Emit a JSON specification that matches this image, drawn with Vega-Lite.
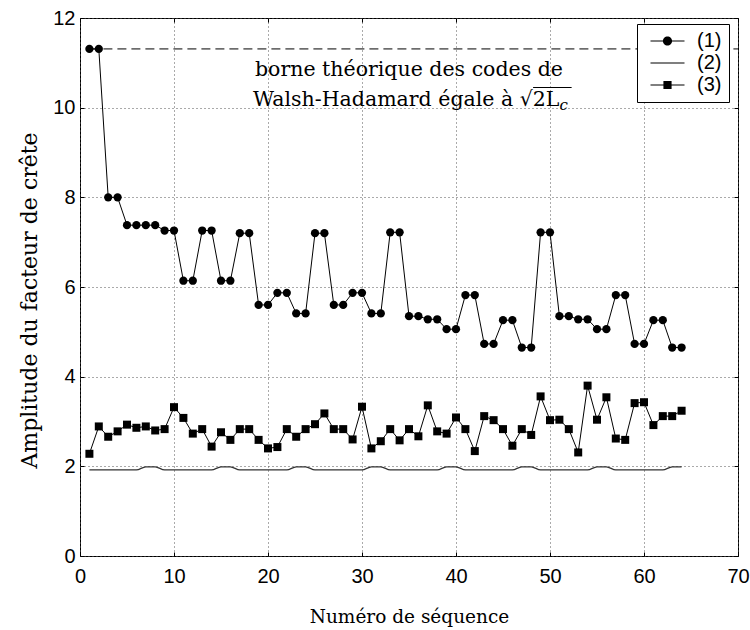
{
  "$schema": "https://vega.github.io/schema/vega-lite/v6.json",
  "width": 658,
  "height": 538,
  "autosize": {"type": "none"},
  "padding": {"left": 80, "top": 18, "right": 12, "bottom": 74},
  "background": "white",
  "config": {
    "view": {"stroke": "black", "strokeWidth": 1},
    "axis": {
      "labelFont": "Liberation Sans", "labelFontSize": 20, "labelColor": "black",
      "labelFlush": false, "labelOverlap": false,
      "domain": false, "tickColor": "black", "tickSize": -4, "tickWidth": 1,
      "gridColor": "#555555", "gridDash": [1, 3], "gridWidth": 1,
      "titleFont": "DejaVu Serif", "titleFontWeight": "normal", "titleColor": "black"
    },
    "legend": {
      "strokeColor": "black", "fillColor": "white", "padding": 7, "cornerRadius": 0,
      "symbolSize": 289, "symbolOpacity": 1, "symbolOffset": 5,
      "labelFont": "Liberation Sans", "labelFontSize": 20, "labelColor": "black",
      "labelOffset": 28, "rowPadding": 2, "zindex": 1
    }
  },
  "data": {"values": [
    {"n":1,"s":"(1)","v":11.31},{"n":2,"s":"(1)","v":11.31},{"n":3,"s":"(1)","v":8.0},{"n":4,"s":"(1)","v":8.0},
    {"n":5,"s":"(1)","v":7.38},{"n":6,"s":"(1)","v":7.38},{"n":7,"s":"(1)","v":7.38},{"n":8,"s":"(1)","v":7.38},
    {"n":9,"s":"(1)","v":7.26},{"n":10,"s":"(1)","v":7.26},{"n":11,"s":"(1)","v":6.14},{"n":12,"s":"(1)","v":6.14},
    {"n":13,"s":"(1)","v":7.26},{"n":14,"s":"(1)","v":7.26},{"n":15,"s":"(1)","v":6.14},{"n":16,"s":"(1)","v":6.14},
    {"n":17,"s":"(1)","v":7.2},{"n":18,"s":"(1)","v":7.2},{"n":19,"s":"(1)","v":5.6},{"n":20,"s":"(1)","v":5.6},
    {"n":21,"s":"(1)","v":5.87},{"n":22,"s":"(1)","v":5.87},{"n":23,"s":"(1)","v":5.41},{"n":24,"s":"(1)","v":5.41},
    {"n":25,"s":"(1)","v":7.2},{"n":26,"s":"(1)","v":7.2},{"n":27,"s":"(1)","v":5.6},{"n":28,"s":"(1)","v":5.6},
    {"n":29,"s":"(1)","v":5.87},{"n":30,"s":"(1)","v":5.87},{"n":31,"s":"(1)","v":5.41},{"n":32,"s":"(1)","v":5.41},
    {"n":33,"s":"(1)","v":7.22},{"n":34,"s":"(1)","v":7.22},{"n":35,"s":"(1)","v":5.35},{"n":36,"s":"(1)","v":5.35},
    {"n":37,"s":"(1)","v":5.28},{"n":38,"s":"(1)","v":5.28},{"n":39,"s":"(1)","v":5.06},{"n":40,"s":"(1)","v":5.06},
    {"n":41,"s":"(1)","v":5.82},{"n":42,"s":"(1)","v":5.82},{"n":43,"s":"(1)","v":4.73},{"n":44,"s":"(1)","v":4.73},
    {"n":45,"s":"(1)","v":5.26},{"n":46,"s":"(1)","v":5.26},{"n":47,"s":"(1)","v":4.65},{"n":48,"s":"(1)","v":4.65},
    {"n":49,"s":"(1)","v":7.22},{"n":50,"s":"(1)","v":7.22},{"n":51,"s":"(1)","v":5.35},{"n":52,"s":"(1)","v":5.35},
    {"n":53,"s":"(1)","v":5.28},{"n":54,"s":"(1)","v":5.28},{"n":55,"s":"(1)","v":5.06},{"n":56,"s":"(1)","v":5.06},
    {"n":57,"s":"(1)","v":5.82},{"n":58,"s":"(1)","v":5.82},{"n":59,"s":"(1)","v":4.73},{"n":60,"s":"(1)","v":4.73},
    {"n":61,"s":"(1)","v":5.26},{"n":62,"s":"(1)","v":5.26},{"n":63,"s":"(1)","v":4.65},{"n":64,"s":"(1)","v":4.65},
    {"n":1,"s":"(2)","v":1.92},{"n":2,"s":"(2)","v":1.92},{"n":3,"s":"(2)","v":1.92},{"n":4,"s":"(2)","v":1.92},
    {"n":5,"s":"(2)","v":1.92},{"n":6,"s":"(2)","v":1.92},{"n":7,"s":"(2)","v":1.99},{"n":8,"s":"(2)","v":1.99},
    {"n":9,"s":"(2)","v":1.92},{"n":10,"s":"(2)","v":1.92},{"n":11,"s":"(2)","v":1.92},{"n":12,"s":"(2)","v":1.92},
    {"n":13,"s":"(2)","v":1.92},{"n":14,"s":"(2)","v":1.92},{"n":15,"s":"(2)","v":1.99},{"n":16,"s":"(2)","v":1.99},
    {"n":17,"s":"(2)","v":1.92},{"n":18,"s":"(2)","v":1.92},{"n":19,"s":"(2)","v":1.92},{"n":20,"s":"(2)","v":1.92},
    {"n":21,"s":"(2)","v":1.92},{"n":22,"s":"(2)","v":1.92},{"n":23,"s":"(2)","v":1.99},{"n":24,"s":"(2)","v":1.99},
    {"n":25,"s":"(2)","v":1.92},{"n":26,"s":"(2)","v":1.92},{"n":27,"s":"(2)","v":1.92},{"n":28,"s":"(2)","v":1.92},
    {"n":29,"s":"(2)","v":1.92},{"n":30,"s":"(2)","v":1.92},{"n":31,"s":"(2)","v":1.99},{"n":32,"s":"(2)","v":1.99},
    {"n":33,"s":"(2)","v":1.92},{"n":34,"s":"(2)","v":1.92},{"n":35,"s":"(2)","v":1.92},{"n":36,"s":"(2)","v":1.92},
    {"n":37,"s":"(2)","v":1.92},{"n":38,"s":"(2)","v":1.92},{"n":39,"s":"(2)","v":1.99},{"n":40,"s":"(2)","v":1.99},
    {"n":41,"s":"(2)","v":1.92},{"n":42,"s":"(2)","v":1.92},{"n":43,"s":"(2)","v":1.92},{"n":44,"s":"(2)","v":1.92},
    {"n":45,"s":"(2)","v":1.92},{"n":46,"s":"(2)","v":1.92},{"n":47,"s":"(2)","v":1.99},{"n":48,"s":"(2)","v":1.99},
    {"n":49,"s":"(2)","v":1.92},{"n":50,"s":"(2)","v":1.92},{"n":51,"s":"(2)","v":1.92},{"n":52,"s":"(2)","v":1.92},
    {"n":53,"s":"(2)","v":1.92},{"n":54,"s":"(2)","v":1.92},{"n":55,"s":"(2)","v":1.99},{"n":56,"s":"(2)","v":1.99},
    {"n":57,"s":"(2)","v":1.92},{"n":58,"s":"(2)","v":1.92},{"n":59,"s":"(2)","v":1.92},{"n":60,"s":"(2)","v":1.92},
    {"n":61,"s":"(2)","v":1.92},{"n":62,"s":"(2)","v":1.92},{"n":63,"s":"(2)","v":1.99},{"n":64,"s":"(2)","v":1.99},
    {"n":1,"s":"(3)","v":2.28},{"n":2,"s":"(3)","v":2.89},{"n":3,"s":"(3)","v":2.66},{"n":4,"s":"(3)","v":2.78},
    {"n":5,"s":"(3)","v":2.93},{"n":6,"s":"(3)","v":2.86},{"n":7,"s":"(3)","v":2.89},{"n":8,"s":"(3)","v":2.8},
    {"n":9,"s":"(3)","v":2.83},{"n":10,"s":"(3)","v":3.32},{"n":11,"s":"(3)","v":3.08},{"n":12,"s":"(3)","v":2.73},
    {"n":13,"s":"(3)","v":2.83},{"n":14,"s":"(3)","v":2.44},{"n":15,"s":"(3)","v":2.76},{"n":16,"s":"(3)","v":2.59},
    {"n":17,"s":"(3)","v":2.83},{"n":18,"s":"(3)","v":2.83},{"n":19,"s":"(3)","v":2.59},{"n":20,"s":"(3)","v":2.4},
    {"n":21,"s":"(3)","v":2.43},{"n":22,"s":"(3)","v":2.83},{"n":23,"s":"(3)","v":2.66},{"n":24,"s":"(3)","v":2.83},
    {"n":25,"s":"(3)","v":2.94},{"n":26,"s":"(3)","v":3.18},{"n":27,"s":"(3)","v":2.83},{"n":28,"s":"(3)","v":2.83},
    {"n":29,"s":"(3)","v":2.6},{"n":30,"s":"(3)","v":3.33},{"n":31,"s":"(3)","v":2.4},{"n":32,"s":"(3)","v":2.56},
    {"n":33,"s":"(3)","v":2.83},{"n":34,"s":"(3)","v":2.58},{"n":35,"s":"(3)","v":2.83},{"n":36,"s":"(3)","v":2.67},
    {"n":37,"s":"(3)","v":3.36},{"n":38,"s":"(3)","v":2.78},{"n":39,"s":"(3)","v":2.73},{"n":40,"s":"(3)","v":3.09},
    {"n":41,"s":"(3)","v":2.83},{"n":42,"s":"(3)","v":2.34},{"n":43,"s":"(3)","v":3.12},{"n":44,"s":"(3)","v":3.03},
    {"n":45,"s":"(3)","v":2.83},{"n":46,"s":"(3)","v":2.46},{"n":47,"s":"(3)","v":2.83},{"n":48,"s":"(3)","v":2.7},
    {"n":49,"s":"(3)","v":3.56},{"n":50,"s":"(3)","v":3.03},{"n":51,"s":"(3)","v":3.04},{"n":52,"s":"(3)","v":2.83},
    {"n":53,"s":"(3)","v":2.31},{"n":54,"s":"(3)","v":3.8},{"n":55,"s":"(3)","v":3.04},{"n":56,"s":"(3)","v":3.54},
    {"n":57,"s":"(3)","v":2.62},{"n":58,"s":"(3)","v":2.59},{"n":59,"s":"(3)","v":3.41},{"n":60,"s":"(3)","v":3.43},
    {"n":61,"s":"(3)","v":2.92},{"n":62,"s":"(3)","v":3.12},{"n":63,"s":"(3)","v":3.12},{"n":64,"s":"(3)","v":3.24}
  ]},
  "layer": [
    {
      "transform": [{"filter": "datum.s !== '(2)'"}],
      "mark": {"type": "line", "color": "black", "strokeWidth": 1},
      "encoding": {
        "x": {"field": "n", "type": "quantitative", "scale": {"domain": [0, 70], "nice": false, "zero": false},
          "axis": {"orient": "bottom", "values": [0, 10, 20, 30, 40, 50, 60, 70], "grid": true,
            "title": "Numéro de séquence", "titleFontSize": 18.5, "titleY": 66, "titleBaseline": "alphabetic", "labelPadding": 14}},
        "y": {"field": "v", "type": "quantitative", "scale": {"domain": [0, 12], "nice": false},
          "axis": {"orient": "left", "values": [0, 2, 4, 6, 8, 10, 12], "grid": true,
            "title": "Amplitude du facteur de crête", "titleFontSize": 22, "titleX": -44, "titleY": 282,
            "titleAngle": 270, "titleBaseline": "alphabetic", "labelPadding": 9}},
        "detail": {"field": "s"}
      }
    },
    {
      "transform": [{"filter": "datum.s === '(2)'"}],
      "mark": {"type": "line", "color": "#333333", "strokeWidth": 1.2, "interpolate": "monotone"},
      "encoding": {
        "x": {"field": "n", "type": "quantitative", "axis": null},
        "y": {"field": "v", "type": "quantitative", "axis": null}
      }
    },
    {
      "transform": [{"filter": "datum.s === '(1)'"}],
      "mark": {"type": "point", "shape": "circle", "filled": true, "color": "black", "size": 68, "opacity": 1},
      "encoding": {
        "x": {"field": "n", "type": "quantitative",
          "axis": {"orient": "top", "values": [0, 10, 20, 30, 40, 50, 60, 70], "labels": false, "grid": false, "title": null}},
        "y": {"field": "v", "type": "quantitative",
          "axis": {"orient": "right", "values": [0, 2, 4, 6, 8, 10, 12], "labels": false, "grid": false, "title": null}}
      }
    },
    {
      "transform": [{"filter": "datum.s === '(3)'"}],
      "mark": {"type": "point", "shape": "square", "filled": true, "color": "black", "size": 64, "opacity": 1},
      "encoding": {
        "x": {"field": "n", "type": "quantitative", "axis": null},
        "y": {"field": "v", "type": "quantitative", "axis": null}
      }
    },
    {
      "data": {"values": [{}]},
      "mark": {"type": "rule", "color": "black", "strokeWidth": 1, "strokeDash": [9, 5]},
      "encoding": {
        "x": {"datum": 1, "type": "quantitative", "axis": null},
        "x2": {"datum": 70},
        "y": {"datum": 11.31, "type": "quantitative", "axis": null}
      }
    },
    {
      "data": {"values": [{}]},
      "mark": {"type": "text", "font": "DejaVu Serif", "fontSize": 20.5, "align": "center", "baseline": "alphabetic", "color": "black"},
      "encoding": {
        "x": {"datum": 35, "type": "quantitative", "axis": null},
        "y": {"datum": 10.71, "type": "quantitative", "axis": null},
        "text": {"value": "borne théorique des codes de"}
      }
    },
    {
      "data": {"values": [{}]},
      "mark": {"type": "text", "font": "DejaVu Serif", "fontSize": 20.5, "align": "right", "baseline": "alphabetic", "color": "black"},
      "encoding": {
        "x": {"datum": 51, "type": "quantitative", "axis": null},
        "y": {"datum": 10.04, "type": "quantitative", "axis": null},
        "text": {"value": "Walsh-Hadamard égale à √2L"}
      }
    },
    {
      "data": {"values": [{}]},
      "mark": {"type": "text", "font": "DejaVu Serif", "fontSize": 15, "fontStyle": "italic", "align": "left", "baseline": "alphabetic", "color": "black", "dy": 4},
      "encoding": {
        "x": {"datum": 51, "type": "quantitative", "axis": null},
        "y": {"datum": 10.04, "type": "quantitative", "axis": null},
        "text": {"value": "c"}
      }
    },
    {
      "data": {"values": [{}]},
      "mark": {"type": "rule", "color": "black", "strokeWidth": 1.2},
      "encoding": {
        "x": {"datum": 48.2, "type": "quantitative", "axis": null},
        "x2": {"datum": 52.3},
        "y": {"datum": 10.45, "type": "quantitative", "axis": null}
      }
    },
    {
      "transform": [{"filter": "false"}],
      "mark": {"type": "point", "filled": true, "color": "black"},
      "encoding": {
        "x": {"field": "n", "type": "quantitative", "axis": null},
        "y": {"field": "v", "type": "quantitative", "axis": null},
        "shape": {"field": "s", "type": "nominal",
          "scale": {"domain": ["(1)", "(2)", "(3)"],
            "range": [
              "M-1,-0.06L3,-0.06L3,0.06L-1,0.06ZM0.46,0A0.54,0.54,0,1,1,1.54,0A0.54,0.54,0,1,1,0.46,0Z",
              "M-1,-0.06L3,-0.06L3,0.06L-1,0.06Z",
              "M-1,-0.06L3,-0.06L3,0.06L-1,0.06ZM0.52,-0.48L1.48,-0.48L1.48,0.48L0.52,0.48Z"]},
          "legend": {"title": null, "orient": "none", "legendX": 557, "legendY": 6}}
      }
    }
  ],
  "resolve": {"axis": {"x": "independent", "y": "independent"}}
}
